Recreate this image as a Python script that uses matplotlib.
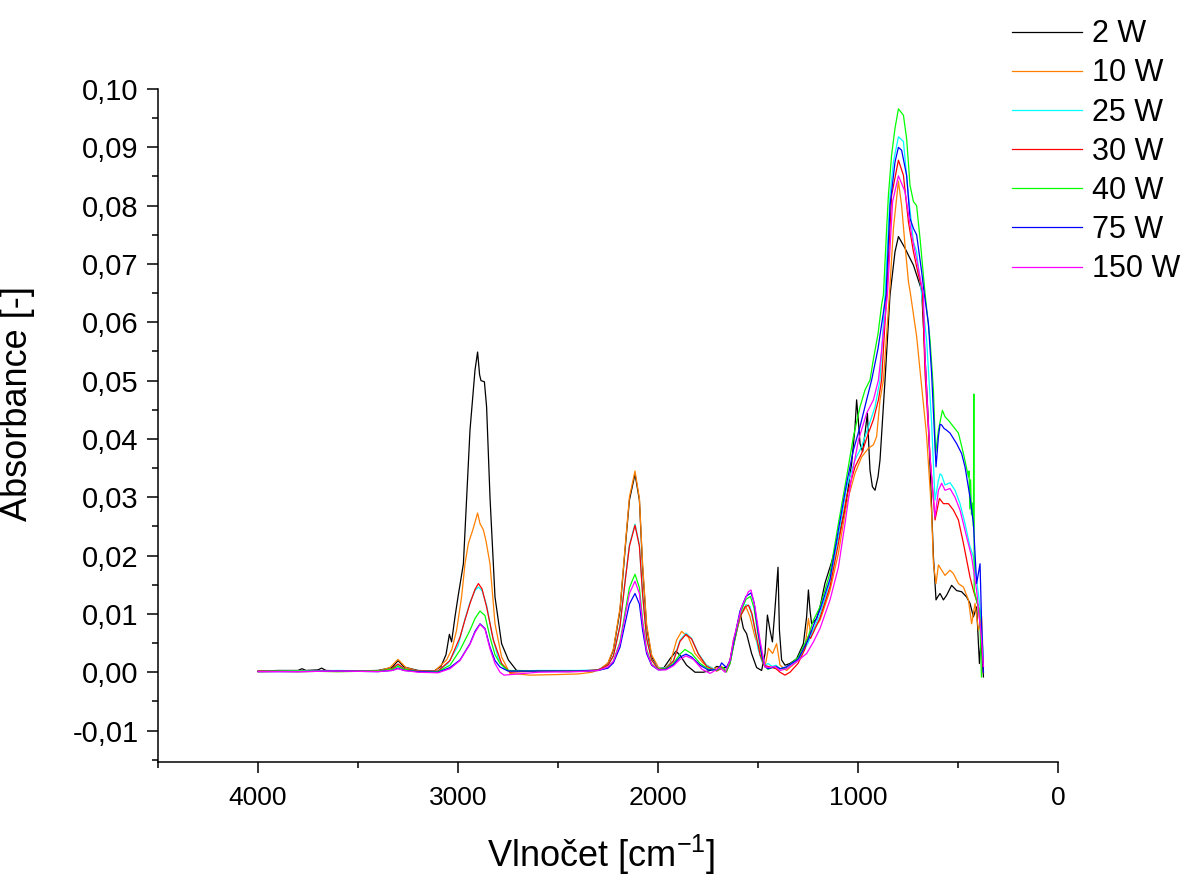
import matplotlib

matplotlib.use("Agg")
import matplotlib.pyplot as plt
from matplotlib.ticker import FuncFormatter, MultipleLocator

plt.rcParams["font.family"] = ["Liberation Sans", "DejaVu Sans"]
plt.rcParams["mathtext.fontset"] = "custom"
plt.rcParams["mathtext.rm"] = "Liberation Sans"
plt.rcParams["mathtext.it"] = "Liberation Sans"

# --- data (wavenumber [cm-1], absorbance) ---
labels = ["2 W", "10 W", "25 W", "30 W", "40 W", "75 W", "150 W"]
colors = ["#000000", "#ff8000", "#00ffff", "#ff0000", "#00ff00", "#0000ff", "#ff00ff"]

wn_2w = [4000, 3900, 3800, 3780, 3760, 3700, 3682, 3660, 3550, 3400, 3330, 3300, 3270, 3200, 3120, 3085,
         3060, 3043, 3032, 3015, 3000, 2973, 2940, 2915, 2902, 2892, 2885, 2868, 2857, 2840, 2815, 2782,
         2748, 2707, 2600, 2450, 2350, 2290, 2250, 2223, 2190, 2165, 2143, 2115, 2093, 2077, 2057, 2032,
         1998, 1970, 1940, 1910, 1890, 1857, 1815, 1773, 1740, 1723, 1707, 1682, 1657, 1640, 1623, 1598,
         1587, 1573, 1557, 1532, 1507, 1482, 1465, 1453, 1440, 1428, 1417, 1400, 1393, 1382, 1365, 1340,
         1307, 1273, 1257, 1248, 1240, 1232, 1207, 1190, 1165, 1132, 1098, 1065, 1032, 1015, 1007, 998,
         990, 977, 965, 953, 945, 940, 928, 915, 900, 890, 878, 865, 840, 815, 798, 765, 748, 723, 707,
         682, 648, 623, 610, 600, 590, 573, 557, 532, 507, 482, 457, 440, 423, 407, 393, 385, 373]
a_2w = [0.0002, 0.0003, 0.0003, 0.0006, 0.0003, 0.0004, 0.0007, 0.0003, 0.0002, 0.0003, 0.0008, 0.0020,
        0.0009, 0.0003, 0.0002, 0.0010, 0.0030, 0.0065, 0.0052, 0.0095, 0.0129, 0.0186, 0.0415, 0.0518,
        0.0549, 0.0510, 0.0500, 0.0498, 0.0455, 0.0300, 0.0129, 0.0049, 0.0021, 0.0003, 0.0002, 0.0001,
        0.0002, 0.0005, 0.0015, 0.0038, 0.0106, 0.0209, 0.0295, 0.0340, 0.0295, 0.0180, 0.0078, 0.0026,
        0.0006, 0.0008, 0.0023, 0.0036, 0.0029, 0.0012, 0.0000, 0.0000, 0.0003, 0.0005, 0.0010, 0.0008,
        0.0008, 0.0020, 0.0049, 0.0089, 0.0098, 0.0075, 0.0066, 0.0032, 0.0008, 0.0003, 0.0032, 0.0098,
        0.0072, 0.0052, 0.0100, 0.0180, 0.0072, 0.0021, 0.0012, 0.0015, 0.0023, 0.0049, 0.0095, 0.0141,
        0.0106, 0.0083, 0.0092, 0.0112, 0.0153, 0.0189, 0.0232, 0.0278, 0.0358, 0.0420, 0.0467, 0.0430,
        0.0392, 0.0378, 0.0410, 0.0444, 0.0380, 0.0346, 0.0318, 0.0312, 0.0335, 0.0364, 0.0430, 0.0501,
        0.0647, 0.0721, 0.0747, 0.0727, 0.0715, 0.0698, 0.0681, 0.0655, 0.0427, 0.0198, 0.0124, 0.0130,
        0.0135, 0.0124, 0.0132, 0.0149, 0.0140, 0.0138, 0.0129, 0.0118, 0.0095, 0.0112, 0.0015, 0.0055,
        -0.0008]

wn_10w = [4000, 3800, 3600, 3400, 3340, 3300, 3260, 3200, 3120, 3057, 3030, 3007, 2982, 2965, 2948, 2925,
          2902, 2890, 2873, 2860, 2840, 2815, 2782, 2740, 2640, 2500, 2400, 2330, 2290, 2250, 2223, 2190,
          2165, 2143, 2115, 2093, 2077, 2057, 2032, 1998, 1970, 1940, 1907, 1882, 1848, 1815, 1773, 1723,
          1700, 1682, 1657, 1640, 1623, 1582, 1560, 1540, 1515, 1482, 1465, 1448, 1427, 1407, 1390, 1357,
          1307, 1265, 1248, 1237, 1207, 1190, 1140, 1098, 1057, 1015, 982, 948, 923, 907, 890, 873, 843,
          823, 798, 782, 765, 748, 737, 707, 657, 632, 623, 610, 598, 582, 565, 540, 523, 498, 473, 448,
          432, 415, 398, 382, 373]
a_10w = [0.0001, 0.0002, 0.0001, 0.0002, 0.0008, 0.0022, 0.0008, 0.0002, 0.0001, 0.0021, 0.0040, 0.0072,
         0.0129, 0.0186, 0.0221, 0.0245, 0.0273, 0.0255, 0.0244, 0.0225, 0.0186, 0.0083, 0.0026, -0.0002,
         -0.0005, -0.0004, -0.0003, 0.0000, 0.0005, 0.0016, 0.0040, 0.0110, 0.0212, 0.0300, 0.0345, 0.0298,
         0.0185, 0.0082, 0.0030, 0.0008, 0.0006, 0.0015, 0.0055, 0.0070, 0.0060, 0.0032, 0.0015, 0.0006,
         0.0008, 0.0010, 0.0000, 0.0020, 0.0055, 0.0100, 0.0112, 0.0095, 0.0060, 0.0032, 0.0009, 0.0041,
         0.0032, 0.0049, 0.0012, 0.0003, 0.0018, 0.0043, 0.0092, 0.0066, 0.0081, 0.0089, 0.0140, 0.0204,
         0.0289, 0.0341, 0.0369, 0.0384, 0.0390, 0.0404, 0.0467, 0.0501, 0.0647, 0.0761, 0.0842, 0.0800,
         0.0732, 0.0670, 0.0647, 0.0576, 0.0405, 0.0273, 0.0186, 0.0152, 0.0184, 0.0175, 0.0166, 0.0175,
         0.0169, 0.0152, 0.0146, 0.0124, 0.0083, 0.0118, 0.0072, 0.0095, 0.0009]

wn_25w = [4000, 3800, 3600, 3400, 3330, 3300, 3270, 3200, 3100, 3050, 3000, 2970, 2940, 2915, 2898, 2880,
          2857, 2830, 2800, 2770, 2740, 2600, 2400, 2300, 2250, 2223, 2190, 2165, 2143, 2115, 2093, 2077,
          2057, 2032, 1998, 1960, 1923, 1890, 1860, 1832, 1798, 1757, 1707, 1690, 1675, 1660, 1640, 1623,
          1590, 1560, 1540, 1520, 1500, 1480, 1465, 1450, 1430, 1410, 1390, 1360, 1300, 1250, 1223, 1190,
          1140, 1098, 1057, 1015, 982, 948, 915, 890, 865, 840, 823, 798, 773, 748, 723, 707, 682, 657, 632,
          615, 598, 590, 582, 565, 540, 515, 490, 465, 440, 423, 407, 390, 373]
a_25w = [0.0002, 0.0002, 0.0003, 0.0002, 0.0006, 0.0012, 0.0006, 0.0002, 0.0002, 0.0015, 0.0045, 0.0085,
         0.0120, 0.0140, 0.0146, 0.0140, 0.0115, 0.0065, 0.0025, 0.0008, 0.0002, 0.0003, 0.0003, 0.0004,
         0.0012, 0.0028, 0.0080, 0.0155, 0.0218, 0.0254, 0.0218, 0.0135, 0.0060, 0.0022, 0.0006, 0.0008,
         0.0020, 0.0055, 0.0067, 0.0058, 0.0032, 0.0012, 0.0003, 0.0006, 0.0008, 0.0000, 0.0015, 0.0045,
         0.0095, 0.0116, 0.0113, 0.0080, 0.0040, 0.0018, 0.0012, 0.0015, 0.0010, 0.0012, 0.0006, 0.0008,
         0.0020, 0.0050, 0.0073, 0.0099, 0.0155, 0.0232, 0.0318, 0.0364, 0.0387, 0.0421, 0.0455, 0.0501,
         0.0647, 0.0818, 0.0875, 0.0918, 0.0910, 0.0818, 0.0738, 0.0721, 0.0647, 0.0570, 0.0427, 0.0295,
         0.0329, 0.0340, 0.0338, 0.0321, 0.0325, 0.0312, 0.0289, 0.0255, 0.0215, 0.0198, 0.0158, 0.0112,
         0.0026]

wn_30w = [4000, 3800, 3600, 3400, 3330, 3300, 3270, 3200, 3100, 3040, 2990, 2965, 2940, 2915, 2898, 2880,
          2857, 2823, 2782, 2740, 2600, 2400, 2300, 2250, 2223, 2190, 2165, 2143, 2115, 2093, 2077, 2057,
          2032, 1998, 1960, 1923, 1890, 1860, 1832, 1798, 1757, 1707, 1690, 1675, 1660, 1640, 1623, 1590,
          1565, 1548, 1530, 1510, 1490, 1470, 1450, 1430, 1410, 1390, 1365, 1340, 1300, 1265, 1248, 1237,
          1190, 1140, 1098, 1057, 1015, 982, 948, 923, 898, 882, 857, 832, 798, 773, 748, 723, 698, 678,
          665, 640, 615, 593, 573, 548, 523, 498, 473, 440, 423, 398, 382, 373]
a_30w = [0.0002, 0.0001, 0.0002, 0.0002, 0.0006, 0.0014, 0.0006, 0.0002, 0.0002, 0.0020, 0.0060, 0.0090,
         0.0118, 0.0142, 0.0152, 0.0143, 0.0112, 0.0055, 0.0015, 0.0000, 0.0002, 0.0002, 0.0004, 0.0012,
         0.0028, 0.0079, 0.0154, 0.0216, 0.0252, 0.0216, 0.0133, 0.0058, 0.0021, 0.0005, 0.0007, 0.0019,
         0.0053, 0.0065, 0.0057, 0.0031, 0.0010, 0.0002, 0.0005, 0.0008, 0.0001, 0.0015, 0.0045, 0.0095,
         0.0112, 0.0115, 0.0100, 0.0065, 0.0030, 0.0012, 0.0010, 0.0008, 0.0006, 0.0000, -0.0005, 0.0000,
         0.0015, 0.0040, 0.0062, 0.0058, 0.0093, 0.0147, 0.0221, 0.0301, 0.0352, 0.0375, 0.0410, 0.0433,
         0.0467, 0.0501, 0.0647, 0.0818, 0.0878, 0.0852, 0.0772, 0.0721, 0.0681, 0.0655, 0.0512, 0.0370,
         0.0261, 0.0298, 0.0289, 0.0289, 0.0278, 0.0261, 0.0221, 0.0163, 0.0140, 0.0112, 0.0055, 0.0000]

wn_40w = [4000, 3800, 3600, 3400, 3330, 3300, 3270, 3200, 3100, 3040, 2990, 2965, 2940, 2915, 2890, 2865,
          2840, 2815, 2790, 2750, 2600, 2400, 2300, 2250, 2223, 2190, 2165, 2143, 2115, 2093, 2077, 2057,
          2032, 1998, 1960, 1923, 1890, 1865, 1832, 1790, 1750, 1707, 1690, 1675, 1660, 1640, 1623, 1590,
          1560, 1538, 1520, 1500, 1480, 1465, 1450, 1430, 1410, 1390, 1360, 1300, 1250, 1223, 1190, 1140,
          1098, 1057, 1023, 990, 965, 940, 923, 900, 882, 873, 857, 848, 832, 815, 798, 773, 757, 740, 723,
          707, 690, 665, 640, 623, 612, 598, 578, 565, 548, 523, 498, 473, 448, 445, 441, 437, 433, 426,
          423, 421, 419, 405, 392, 383]
a_40w = [0.0001, 0.0002, 0.0001, 0.0002, 0.0005, 0.0010, 0.0005, 0.0001, 0.0001, 0.0012, 0.0038, 0.0055,
         0.0072, 0.0092, 0.0105, 0.0097, 0.0060, 0.0030, 0.0015, 0.0003, 0.0002, 0.0002, 0.0003, 0.0008,
         0.0019, 0.0052, 0.0102, 0.0145, 0.0168, 0.0145, 0.0089, 0.0039, 0.0014, 0.0005, 0.0006, 0.0015,
         0.0031, 0.0039, 0.0032, 0.0015, 0.0006, 0.0003, 0.0006, 0.0008, 0.0001, 0.0015, 0.0045, 0.0100,
         0.0125, 0.0130, 0.0110, 0.0065, 0.0025, 0.0010, 0.0005, 0.0008, 0.0010, 0.0006, 0.0008, 0.0025,
         0.0060, 0.0089, 0.0112, 0.0170, 0.0255, 0.0335, 0.0404, 0.0455, 0.0484, 0.0501, 0.0537, 0.0580,
         0.0630, 0.0647, 0.0760, 0.0818, 0.0887, 0.0933, 0.0966, 0.0955, 0.0915, 0.0835, 0.0807, 0.0800,
         0.0744, 0.0650, 0.0570, 0.0484, 0.0375, 0.0415, 0.0449, 0.0438, 0.0432, 0.0421, 0.0410, 0.0375,
         0.0335, 0.0345, 0.0280, 0.0330, 0.0270, 0.0290, 0.0250, 0.0477, 0.0140, 0.0120, 0.0106, -0.0008]

wn_75w = [4000, 3800, 3600, 3400, 3330, 3300, 3270, 3200, 3100, 3040, 2990, 2965, 2940, 2915, 2890, 2865,
          2840, 2815, 2790, 2750, 2600, 2400, 2300, 2250, 2223, 2190, 2165, 2143, 2115, 2093, 2077, 2057,
          2032, 1998, 1960, 1923, 1890, 1860, 1832, 1790, 1750, 1707, 1690, 1682, 1670, 1657, 1640, 1623,
          1590, 1560, 1535, 1520, 1500, 1480, 1465, 1450, 1430, 1410, 1390, 1360, 1300, 1250, 1223, 1190,
          1140, 1098, 1057, 1023, 990, 957, 932, 900, 860, 840, 815, 798, 782, 757, 740, 723, 707, 682, 668,
          648, 632, 610, 598, 590, 582, 570, 557, 540, 507, 482, 465, 440, 423, 407, 398, 390, 382, 373]
a_75w = [0.0001, 0.0001, 0.0002, 0.0001, 0.0003, 0.0007, 0.0003, 0.0001, 0.0000, 0.0008, 0.0021, 0.0035,
         0.0049, 0.0070, 0.0083, 0.0075, 0.0043, 0.0020, 0.0009, 0.0002, 0.0002, 0.0002, 0.0003, 0.0007,
         0.0016, 0.0043, 0.0083, 0.0117, 0.0135, 0.0117, 0.0072, 0.0032, 0.0012, 0.0004, 0.0005, 0.0013,
         0.0026, 0.0031, 0.0026, 0.0012, 0.0004, 0.0004, 0.0010, 0.0016, 0.0012, 0.0008, 0.0020, 0.0050,
         0.0105, 0.0130, 0.0136, 0.0120, 0.0070, 0.0028, 0.0010, 0.0006, 0.0008, 0.0010, 0.0006, 0.0009,
         0.0022, 0.0055, 0.0080, 0.0107, 0.0160, 0.0244, 0.0324, 0.0381, 0.0421, 0.0467, 0.0501, 0.0555,
         0.0647, 0.0800, 0.0875, 0.0900, 0.0895, 0.0852, 0.0778, 0.0761, 0.0750, 0.0687, 0.0647, 0.0598,
         0.0512, 0.0352, 0.0404, 0.0425, 0.0424, 0.0418, 0.0415, 0.0410, 0.0392, 0.0375, 0.0352, 0.0300,
         0.0255, 0.0152, 0.0170, 0.0186, 0.0083, 0.0000]

wn_150w = [4000, 3800, 3600, 3400, 3330, 3300, 3270, 3200, 3100, 3040, 2990, 2965, 2940, 2915, 2890, 2865,
           2840, 2815, 2790, 2770, 2700, 2600, 2400, 2300, 2250, 2223, 2190, 2165, 2143, 2115, 2093, 2077,
           2057, 2032, 1998, 1960, 1923, 1890, 1860, 1823, 1780, 1740, 1690, 1665, 1640, 1623, 1582, 1548,
           1535, 1515, 1490, 1465, 1440, 1415, 1390, 1357, 1307, 1257, 1223, 1190, 1140, 1098, 1065, 1032,
           998, 957, 923, 898, 853, 827, 798, 765, 732, 698, 673, 665, 640, 615, 598, 582, 565, 540, 515,
           490, 457, 432, 407, 382, 373]
a_150w = [0.0001, 0.0001, 0.0002, 0.0001, 0.0003, 0.0006, 0.0003, 0.0000, -0.0001, 0.0006, 0.0020, 0.0034,
          0.0048, 0.0068, 0.0082, 0.0074, 0.0040, 0.0015, 0.0000, -0.0005, -0.0003, 0.0000, 0.0001, 0.0003,
          0.0009, 0.0019, 0.0049, 0.0095, 0.0135, 0.0156, 0.0135, 0.0083, 0.0036, 0.0013, 0.0004, 0.0004,
          0.0011, 0.0022, 0.0028, 0.0022, 0.0005, -0.0002, 0.0008, 0.0000, 0.0020, 0.0055, 0.0112, 0.0138,
          0.0141, 0.0112, 0.0055, 0.0009, 0.0008, 0.0010, 0.0003, 0.0006, 0.0018, 0.0032, 0.0052, 0.0075,
          0.0124, 0.0180, 0.0255, 0.0335, 0.0398, 0.0444, 0.0467, 0.0501, 0.0647, 0.0807, 0.0851, 0.0824,
          0.0750, 0.0692, 0.0647, 0.0540, 0.0369, 0.0266, 0.0312, 0.0324, 0.0312, 0.0315, 0.0300, 0.0278,
          0.0232, 0.0198, 0.0140, 0.0055, 0.0010]

series = [(wn_2w, a_2w), (wn_10w, a_10w), (wn_25w, a_25w), (wn_30w, a_30w),
          (wn_40w, a_40w), (wn_75w, a_75w), (wn_150w, a_150w)]


def comma(v, pos):
    return f"{round(v, 4):.2f}".replace(".", ",")


fig = plt.figure(figsize=(11.86, 8.76), dpi=100)
ax = fig.add_axes([0.1332, 0.1301, 0.7589, 0.7683])

for (wn, a), lab, col in zip(series, labels, colors):
    assert len(wn) == len(a), lab
    ax.plot(wn, a, color=col, lw=0.9, label=lab)

ax.set_xlim(4500, 0)
ax.set_ylim(-0.0154, 0.10)
ax.xaxis.set_major_locator(MultipleLocator(1000))
ax.xaxis.set_minor_locator(MultipleLocator(500))
ax.yaxis.set_major_locator(MultipleLocator(0.01))
ax.yaxis.set_minor_locator(MultipleLocator(0.005))
ax.yaxis.set_major_formatter(FuncFormatter(comma))

for side in ("top", "right"):
    ax.spines[side].set_visible(False)
for side in ("left", "bottom"):
    ax.spines[side].set_linewidth(1.1)
ax.tick_params(which="major", direction="out", length=8, width=1.1)
ax.tick_params(which="minor", direction="out", length=4.5, width=1.1)
ax.tick_params(axis="y", labelsize=21, pad=6)
ax.tick_params(axis="x", labelsize=19, pad=9)

ax.set_ylabel("Absorbance [-]", fontsize=26)
ax.yaxis.set_label_coords(-0.137, 0.533)
ax.set_xlabel("Vlnočet [cm$^{-1}$]", fontsize=26)
ax.xaxis.set_label_coords(0.492, -0.105)

fig.legend(loc="upper left", bbox_to_anchor=(0.853, 0.978), frameon=False, fontsize=22,
           handlelength=2.3, handletextpad=0.33, labelspacing=0.30, borderpad=0, borderaxespad=0)

fig.savefig("out.png", dpi=100)
